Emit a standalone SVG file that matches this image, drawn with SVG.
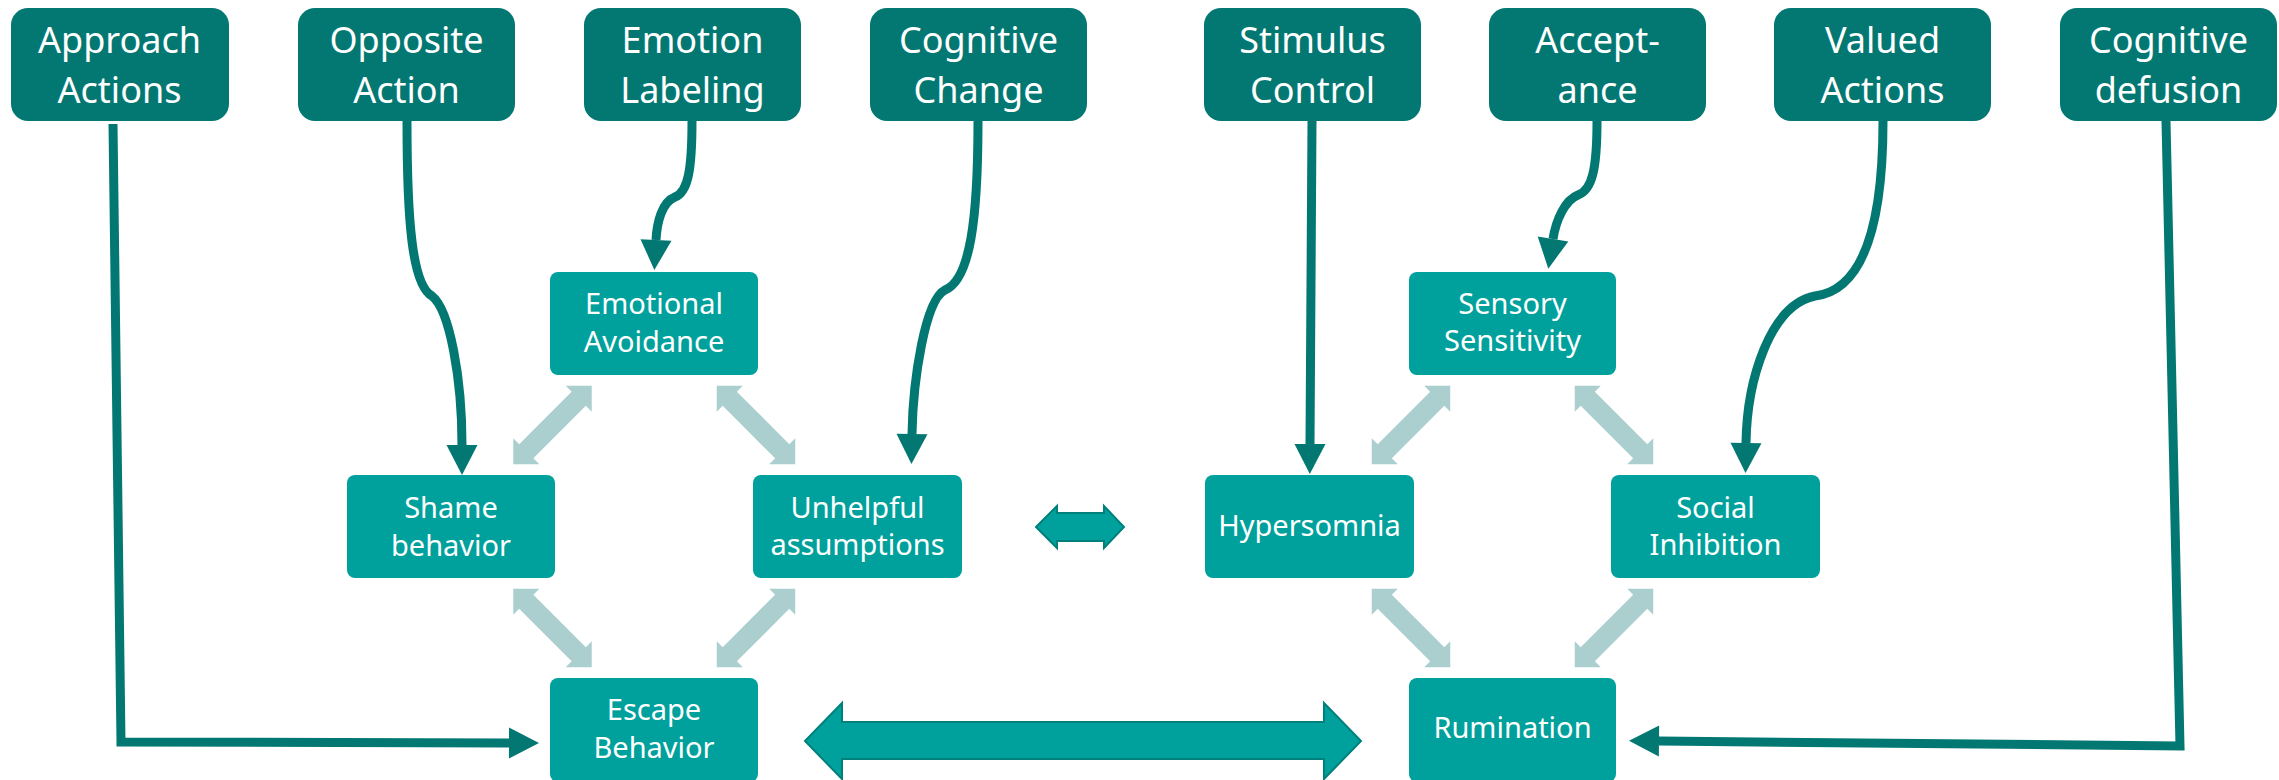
<svg xmlns="http://www.w3.org/2000/svg" xmlns:xlink="http://www.w3.org/1999/xlink" width="2279" height="780" viewBox="0 0 2279 780">
<style>
.top rect{fill:#037873}
.top text{fill:#fff;font-family:"Noto Sans","Open Sans",sans-serif;font-size:36px;text-anchor:middle}
.main rect{fill:#00A19C}
.main text{fill:#fff;font-family:"Noto Sans","Open Sans",sans-serif;font-size:29px;text-anchor:middle}
.conn{fill:none;stroke:#037873;stroke-width:9}
.light{fill:#ABCFCE}
.big{fill:#00A19C;stroke:#00807C;stroke-width:2}
</style>
<defs>
<marker id="ah" markerUnits="userSpaceOnUse" markerWidth="32" markerHeight="34" viewBox="0 -17 31 34" refX="0" refY="0" orient="auto">
<path d="M0,-15.5 L30,0 L0,15.5 z" fill="#037873"/>
</marker>
<polygon id="dbl" class="light" points="55.5,0 37.1,-18.4 37.1,-10 -37.1,-10 -37.1,-18.4 -55.5,0 -37.1,18.4 -37.1,10 37.1,10 37.1,18.4"/>
</defs>
<rect width="2279" height="780" fill="#fff"/>

<g id="approach" class="top"><rect x="11" y="8" width="218" height="113" rx="17"/><text x="119.5" y="53">Approach</text><text x="119.5" y="103">Actions</text></g>
<g id="opposite" class="top"><rect x="298" y="8" width="217" height="113" rx="17"/><text x="406.5" y="53">Opposite</text><text x="406.5" y="103">Action</text></g>
<g id="labeling" class="top"><rect x="584" y="8" width="217" height="113" rx="17"/><text x="692.5" y="53">Emotion</text><text x="692.5" y="103">Labeling</text></g>
<g id="cogchange" class="top"><rect x="870" y="8" width="217" height="113" rx="17"/><text x="978.5" y="53">Cognitive</text><text x="978.5" y="103">Change</text></g>
<g id="stimulus" class="top"><rect x="1204" y="8" width="217" height="113" rx="17"/><text x="1312.5" y="53">Stimulus</text><text x="1312.5" y="103">Control</text></g>
<g id="acceptance" class="top"><rect x="1489" y="8" width="217" height="113" rx="17"/><text x="1597.5" y="53">Accept-</text><text x="1597.5" y="103">ance</text></g>
<g id="valued" class="top"><rect x="1774" y="8" width="217" height="113" rx="17"/><text x="1882.5" y="53">Valued</text><text x="1882.5" y="103">Actions</text></g>
<g id="defusion" class="top"><rect x="2060" y="8" width="217" height="113" rx="17"/><text x="2168.5" y="53">Cognitive</text><text x="2168.5" y="103">defusion</text></g>

<g id="emotional" class="main"><rect x="550" y="272" width="208" height="103" rx="8"/><text x="654" y="314">Emotional</text><text x="654" y="352">Avoidance</text></g>
<g id="shame" class="main"><rect x="347" y="475" width="208" height="103" rx="8"/><text x="451" y="518">Shame</text><text x="451" y="556">behavior</text></g>
<g id="unhelpful" class="main"><rect x="753" y="475" width="209" height="103" rx="8"/><text x="857.5" y="518">Unhelpful</text><text x="857.5" y="555">assumptions</text></g>
<g id="escape" class="main"><rect x="550" y="678" width="208" height="104" rx="8"/><text x="654" y="720">Escape</text><text x="654" y="758">Behavior</text></g>
<g id="sensory" class="main"><rect x="1409" y="272" width="207" height="103" rx="8"/><text x="1512.5" y="314">Sensory</text><text x="1512.5" y="351">Sensitivity</text></g>
<g id="hypersomnia" class="main"><rect x="1205" y="475" width="209" height="103" rx="8"/><text x="1309.5" y="536">Hypersomnia</text></g>
<g id="social" class="main"><rect x="1611" y="475" width="209" height="103" rx="8"/><text x="1715.5" y="518">Social</text><text x="1715.5" y="555">Inhibition</text></g>
<g id="rumination" class="main"><rect x="1409" y="678" width="207" height="104" rx="8"/><text x="1512.5" y="738">Rumination</text></g>

<g id="connectors">
<use xlink:href="#dbl" transform="translate(552.5,425) rotate(-45)"/>
<use xlink:href="#dbl" transform="translate(756,425) rotate(45)"/>
<use xlink:href="#dbl" transform="translate(552.5,628) rotate(45)"/>
<use xlink:href="#dbl" transform="translate(756,628) rotate(-45)"/>
<use xlink:href="#dbl" transform="translate(1411,425) rotate(-45)"/>
<use xlink:href="#dbl" transform="translate(1614,425) rotate(45)"/>
<use xlink:href="#dbl" transform="translate(1411,628) rotate(45)"/>
<use xlink:href="#dbl" transform="translate(1614,628) rotate(-45)"/>
<polygon class="big" points="805,741 842,703 842,722 1324,722 1324,703 1361,741 1324,779 1324,759 842,759 842,779"/>
<polygon class="big" points="1036,527 1057,506 1057,513 1104,513 1104,506 1124,527 1104,548 1104,541 1057,541 1057,548"/>
<path class="conn" marker-end="url(#ah)" d="M113 124 L121 742 L509 743"/>
<path class="conn" marker-end="url(#ah)" d="M407 121 C407 220 412 285 432 296 C450 310 462 380 462 445"/>
<path class="conn" marker-end="url(#ah)" d="M692 121 C692 170 688 192 675 197 C662 202 657 222 656 240"/>
<path class="conn" marker-end="url(#ah)" d="M978 121 C978 220 970 280 945 290 C925 300 913 380 912 434"/>
<path class="conn" marker-end="url(#ah)" d="M1312 121 L1310 444"/>
<path class="conn" marker-end="url(#ah)" d="M1597 121 C1597 170 1592 190 1578 195 C1565 200 1556 220 1553 239"/>
<path class="conn" marker-end="url(#ah)" d="M1883 121 C1883 220 1865 290 1815 296 C1770 305 1747 380 1746 443"/>
<path class="conn" marker-end="url(#ah)" d="M2166 121 L2180 746 L1659 741"/>
</g>
</svg>
